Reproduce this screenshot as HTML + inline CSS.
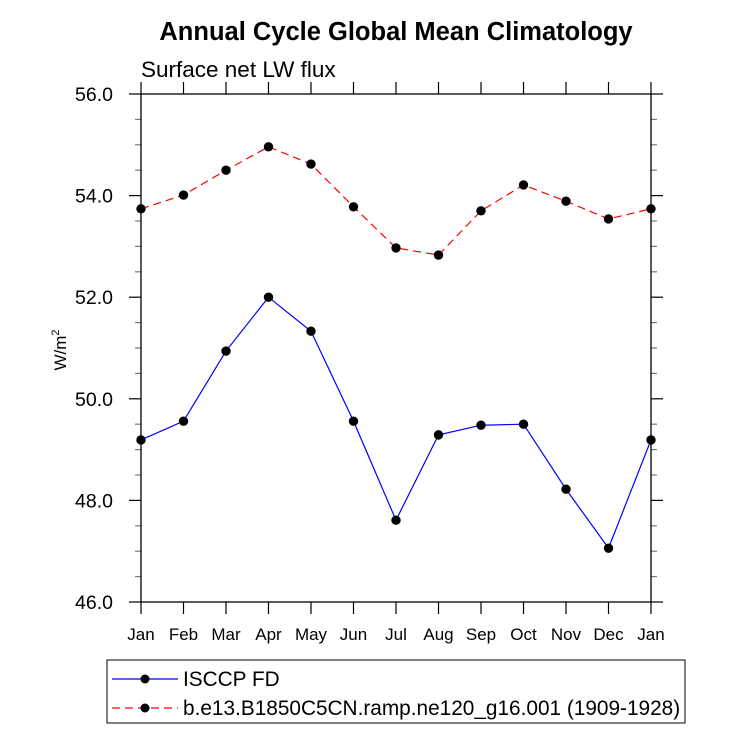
<!DOCTYPE html>
<html><head><meta charset="utf-8"><style>
body{margin:0;background:#fff;}
svg text{font-family:"Liberation Sans",Arial,sans-serif;fill:#000;}
</style></head><body>
<svg id="chart" width="733" height="734" xmlns="http://www.w3.org/2000/svg">
<text x="396" y="40" font-size="25.5" font-weight="bold" text-anchor="middle">Annual Cycle Global Mean Climatology</text>
<text x="141" y="77" font-size="22.5">Surface net LW flux</text>
<text transform="translate(66,350) rotate(-90)" font-size="17" text-anchor="middle">W/m<tspan font-size="11" dy="-7">2</tspan></text>
<g id="ticks"></g>
<g id="series"></g>
<rect x="141" y="94" width="510" height="508" fill="none" stroke="#000" stroke-width="1.3"/>
<g>
<rect x="107" y="660" width="578" height="63" fill="none" stroke="#000" stroke-width="1"/>
<g>
<line x1="112" y1="679" x2="178" y2="679" stroke="#0000ff" stroke-width="1.2"/>
<circle cx="145" cy="679" r="4.5" fill="#000"/>
<text x="183" y="686" font-size="20.8">ISCCP FD</text></g>
<g>
<line x1="112" y1="708" x2="178" y2="708" stroke="#ff0000" stroke-width="1.2" stroke-dasharray="8,5"/>
<circle cx="145" cy="708" r="4.5" fill="#000"/>
<text x="183" y="715" font-size="20.8">b.e13.B1850C5CN.ramp.ne120_g16.001 (1909-1928)</text></g>
</g>
</svg>
<script>
const months=["Jan","Feb","Mar","Apr","May","Jun","Jul","Aug","Sep","Oct","Nov","Dec","Jan"];
const isccp=[49.19,49.56,50.94,52.0,51.33,49.56,47.61,49.29,49.48,49.5,48.22,47.06,49.19];
const model=[53.74,54.01,54.5,54.96,54.62,53.78,52.97,52.83,53.7,54.21,53.89,53.54,53.74];
const yTicks=[46,48,50,52,54,56];
const yTickLabels=["46.0","48.0","50.0","52.0","54.0","56.0"];
const X0=141,X1=651,Y0=602,Y1=94,YMIN=46,YMAX=56;
const NS="http://www.w3.org/2000/svg";
function xs(i){return X0+(X1-X0)*i/(months.length-1);}
function ys(v){return Y0-(v-YMIN)/(YMAX-YMIN)*(Y0-Y1);}
function mk(t,a,p){const e=document.createElementNS(NS,t);for(const k in a)e.setAttribute(k,a[k]);p.appendChild(e);return e;}
const tg=document.getElementById('ticks');
months.forEach((m,i)=>{
 const x=xs(i);
 mk('line',{x1:x,y1:Y0,x2:x,y2:Y0+12,stroke:'#000','stroke-width':1.2},tg);
 mk('line',{x1:x,y1:Y1,x2:x,y2:Y1-12,stroke:'#000','stroke-width':1.2},tg);
 const t=mk('text',{x:x,y:640,'font-size':17,'text-anchor':'middle'},tg);
 
 
 t.textContent=m;
});
for(let v=YMIN;v<=YMAX+1e-9;v+=0.5){
 const y=ys(v);const major=Math.abs(v-Math.round(v/2)*2)<1e-9;const L=major?12:6;
 const c=major?'#000':'#777';
 mk('line',{x1:X0,y1:y,x2:X0-L,y2:y,stroke:c,'stroke-width':1.2},tg);
 mk('line',{x1:X1,y1:y,x2:X1+L,y2:y,stroke:c,'stroke-width':1.2},tg);
}
yTicks.forEach((v,i)=>{
 const t=mk('text',{x:113,y:ys(v)+7,'font-size':19.5,'text-anchor':'end'},tg);
 
 
 t.textContent=yTickLabels[i];
});
const sg=document.getElementById('series');
function draw(vals,color,dash,name){
 const g=mk('g',{},sg);
 
 
 const pl=mk('polyline',{points:vals.map((v,i)=>xs(i)+','+ys(v)).join(' '),fill:'none',stroke:color,'stroke-width':1.2},g);
 if(dash)pl.setAttribute('stroke-dasharray',dash);
 vals.forEach((v,i)=>{
  const c=mk('circle',{cx:xs(i),cy:ys(v),r:4.7,fill:'#000'},g);
  
  
 });
}
draw(isccp,'#0000ff',null,'series-isccp');
draw(model,'#ff0000','8,5','series-model');
</script>
</body></html>
